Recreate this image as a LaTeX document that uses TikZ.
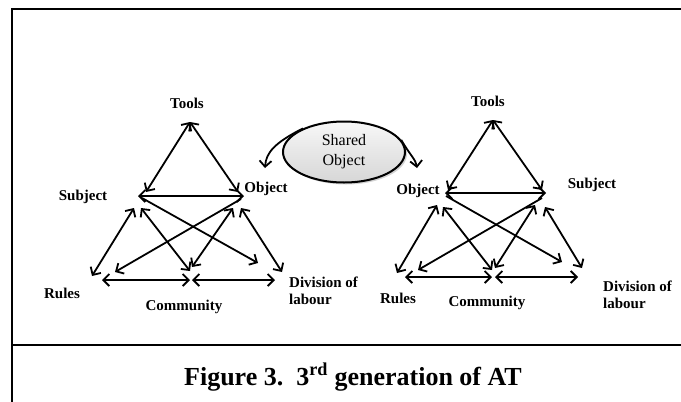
\documentclass[tikz,border=0pt]{standalone}
\usepackage{fontspec}
\setmainfont{Liberation Serif}
\usetikzlibrary{arrows.meta,shadows,shapes.geometric}

\tikzset{
  barb/.tip={Straight Barb[length=6pt,width=12pt]},
  link/.style={line width=1.8pt,{barb}-{barb}},
  onelink/.style={line width=1.8pt,-{barb}},
  lbl/.style={font=\bfseries\fontsize{15}{17}\selectfont,inner sep=0pt},
  frameline/.style={line width=2.3pt},
}

\begin{document}
\begin{tikzpicture}[x=1pt,y=-1pt]
\useasboundingbox (0,0) rectangle (681,402);

% outer frame and caption separator
\draw[frameline] (12,402) -- (12,9) -- (681,9);
\draw[frameline] (12,345) -- (681,345);

% ---------- left activity system ----------
\coordinate (lT)   at (190,122);
\coordinate (lTS)  at (146,192);
\coordinate (lTO)  at (238,192);
\coordinate (lSh)  at (138,196);
\coordinate (lOh)  at (244,196);
\coordinate (lSr)  at (134,208);
\coordinate (lSc)  at (141,208);
\coordinate (lSx)  at (142,198);
\coordinate (lOc)  at (233,208);
\coordinate (lOd)  at (241,208);
\coordinate (lOx)  at (241,199);
\coordinate (lR)   at (92,276);
\coordinate (lCt)  at (190,271);
\coordinate (lCt2) at (192,267);
\coordinate (lD)   at (282,272);
\coordinate (lXd)  at (258,263);
\coordinate (lXr)  at (115,272);
\coordinate (lRb)  at (102,280);
\coordinate (lCb1) at (190,280);
\coordinate (lCb2) at (192,280);
\coordinate (lDb)  at (275,280);

\draw[link] (lT) -- (lTS);
\draw[link] (lT) -- (lTO);
\draw[link] (lSh) -- (lOh);
\draw[link] (lSr) -- (lR);
\draw[link] (lSc) -- (lCt);
\draw[link] (lOc) -- (lCt2);
\draw[link] (lOd) -- (lD);
\draw[onelink] (lSx) -- (lXd);
\draw[onelink] (lOx) -- (lXr);
\draw[link] (lRb) -- (lCb1);
\draw[link] (lCb2) -- (lDb);

\node[lbl] (ltools) at (187,103) {Tools};
\node[lbl] (lsubj)  at (83,197)  {Subject};
\node[lbl] (lobj)   at (266,189) {Object};
\node[lbl] (lrules) at (62,293)  {Rules};
\node[lbl] (lcomm)  at (184,307) {Community};
\node[lbl,anchor=west,align=left] (ldiv) at (289,291) {Division of\\labour};

% ---------- right activity system ----------
\coordinate (rT)   at (493,120);
\coordinate (rTO)  at (448,190);
\coordinate (rTS)  at (542,190);
\coordinate (rOh)  at (445,193);
\coordinate (rSh)  at (546,193);
\coordinate (rOr)  at (437,205);
\coordinate (rOc)  at (443,207);
\coordinate (rOx)  at (446,196);
\coordinate (rSx)  at (542,198);
\coordinate (rSc)  at (535,205);
\coordinate (rSd)  at (545,207);
\coordinate (rR)   at (397,273);
\coordinate (rCt)  at (492,270);
\coordinate (rCt2) at (495,268);
\coordinate (rXd)  at (562,262);
\coordinate (rXr)  at (418,270);
\coordinate (rD)   at (582,268);
\coordinate (rRb)  at (405,277);
\coordinate (rCb1) at (492,277);
\coordinate (rCb2) at (495,277);
\coordinate (rDb)  at (578,277);

\draw[link] (rT) -- (rTO);
\draw[link] (rT) -- (rTS);
\draw[link] (rOh) -- (rSh);
\draw[link] (rOr) -- (rR);
\draw[link] (rOc) -- (rCt);
\draw[link] (rSc) -- (rCt2);
\draw[link] (rSd) -- (rD);
\draw[onelink] (rOx) -- (rXd);
\draw[onelink] (rSx) -- (rXr);
\draw[link] (rRb) -- (rCb1);
\draw[link] (rCb2) -- (rDb);

\node[lbl] (rtools) at (488,101) {Tools};
\node[lbl] (robj)   at (418,191) {Object};
\node[lbl] (rsubj)  at (592,185) {Subject};
\node[lbl] (rrules) at (398,298) {Rules};
\node[lbl] (rcomm)  at (487,303) {Community};
\node[lbl,anchor=west,align=left] (rdiv) at (603,295) {Division of\\labour};

% ---------- shared object ----------
\node[ellipse,draw,line width=2pt,minimum width=122pt,minimum height=61pt,
      top color=gray!6,bottom color=gray!32,
      drop shadow={opacity=0.35,shadow xshift=2pt,shadow yshift=-2pt},
      align=center,font=\fontsize{16}{20}\selectfont,inner sep=0pt]
  (shared) at (344,152) {Shared\\Object};

\coordinate (sharedL) at (265,168);
\coordinate (sharedR) at (417,168);
\draw[onelink] (shared.150) .. controls (274,143) and (266,153) .. (sharedL);
\draw[onelink] (shared.12) .. controls (410,155) and (416,160) .. (sharedR);

% ---------- caption ----------
\node[font=\bfseries\fontsize{26}{30}\selectfont,anchor=base,inner sep=0pt]
  (caption) at (353,385) {Figure 3.\ \ 3\textsuperscript{rd} generation of AT};
\end{tikzpicture}
\end{document}
